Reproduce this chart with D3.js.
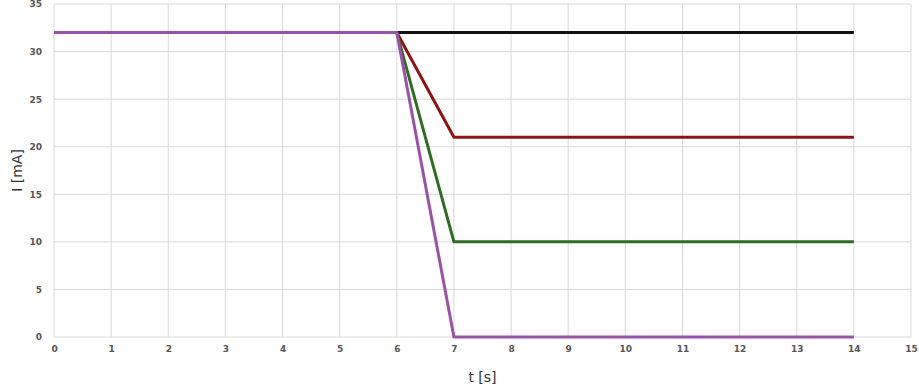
<!DOCTYPE html>
<html><head><meta charset="utf-8">
<script src="https://cdn.jsdelivr.net/npm/d3@7"></script>
<style>body{margin:0;background:#fff}svg{display:block}</style>
</head><body>
<svg id="c" width="919" height="390"></svg>
<script>
const tValues = [0, 6, 7, 14];
const seriesBlack = [32, 32, 32, 32];
const seriesRed = [32, 32, 21, 21];
const seriesGreen = [32, 32, 10, 10];
const seriesPurple = [32, 32, 0, 0];
const seriesColors = ["#111111", "#8e1414", "#2f6e22", "#9a52a8"];
const xTicks = d3.range(0, 16, 1);
const yTicks = d3.range(0, 36, 5);

const svg = d3.select("#c");
const m = {left: 54, right: 8, top: 4, bottom: 53};
const W = 919, H = 390;
const x = d3.scaleLinear().domain([0, 15]).range([m.left, W - m.right]);
const y = d3.scaleLinear().domain([0, 35]).range([H - m.bottom, m.top]);

const g = svg.append("g");
g.selectAll(".vg").data(xTicks).join("line")
  .attr("x1", d => x(d)).attr("x2", d => x(d))
  .attr("y1", y(0)).attr("y2", y(35))
  .attr("stroke", "#d9d9d9").attr("stroke-width", 1);
g.selectAll(".hg").data(yTicks).join("line")
  .attr("x1", x(0)).attr("x2", x(15))
  .attr("y1", d => y(d)).attr("y2", d => y(d))
  .attr("stroke", "#d9d9d9").attr("stroke-width", 1);

const xAxis = d3.axisBottom(x).tickValues(xTicks).tickSize(0).tickPadding(9);
const yAxis = d3.axisLeft(y).tickValues(yTicks).tickSize(0).tickPadding(12);
const xa = svg.append("g").attr("transform", `translate(0,${y(0)})`).call(xAxis);
const ya = svg.append("g").attr("transform", `translate(${x(0)},0)`).call(yAxis);
[xa, ya].forEach(a => {
  a.select(".domain").remove();
  a.selectAll("text").attr("font-family", "DejaVu Sans, sans-serif")
    .attr("font-size", 9).attr("font-weight", "bold").attr("fill", "#555");
});

const series = [seriesBlack, seriesRed, seriesGreen, seriesPurple];
const line = d3.line().x((d, i) => x(tValues[i])).y(d => y(d));
series.forEach((s, k) => {
  svg.append("path").datum(s).attr("d", line)
    .attr("fill", "none").attr("stroke", seriesColors[k])
    .attr("stroke-width", 3).attr("stroke-linejoin", "round");
});

svg.append("text").attr("x", x(7.5)).attr("y", 382)
  .attr("text-anchor", "middle").attr("font-family", "DejaVu Sans, sans-serif")
  .attr("font-size", 14).attr("fill", "#333").text("t [s]");
svg.append("text").attr("transform", `translate(22,${y(17.5)}) rotate(-90)`)
  .attr("text-anchor", "middle").attr("font-family", "DejaVu Sans, sans-serif")
  .attr("font-size", 14).attr("fill", "#333").text("I [mA]");
</script>
</body></html>
